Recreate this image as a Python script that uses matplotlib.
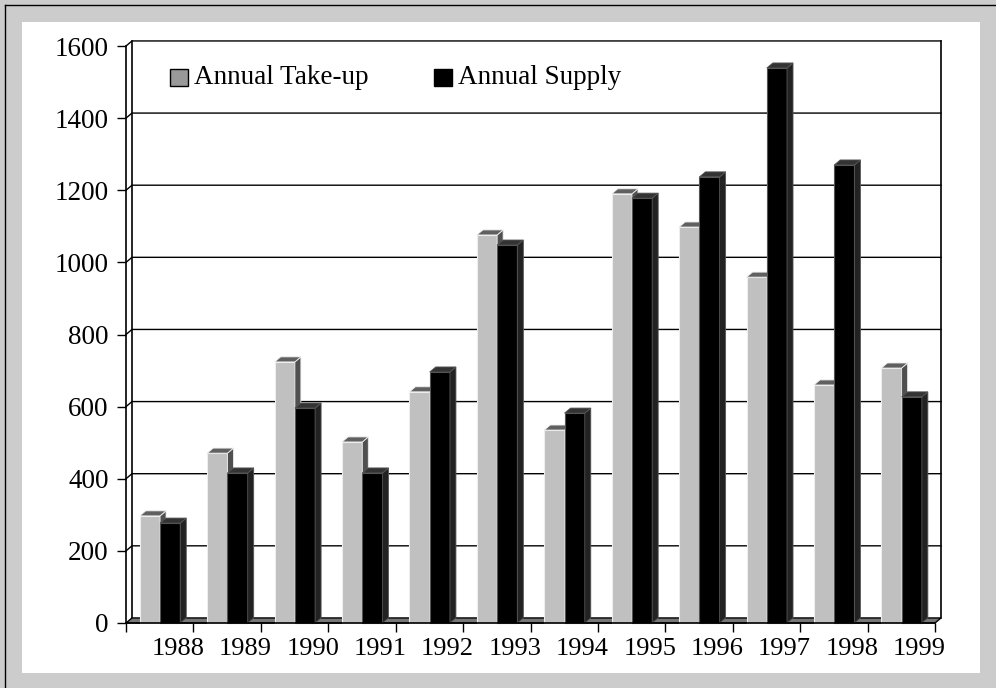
import matplotlib
matplotlib.use('Agg')
import matplotlib.pyplot as plt
from matplotlib.patches import Rectangle, Polygon
from matplotlib.lines import Line2D

years = ['1988', '1989', '1990', '1991', '1992', '1993',
         '1994', '1995', '1996', '1997', '1998', '1999']
take_up = [297, 471, 724, 502, 641, 1076, 535, 1190, 1098, 959, 660, 707]
supply = [277, 416, 596, 416, 696, 1048, 582, 1178, 1237, 1539, 1270, 627]
y_ticks = [0, 200, 400, 600, 800, 1000, 1200, 1400, 1600]

W, H = 996, 688
plt.rcParams['font.family'] = ['Liberation Serif', 'DejaVu Serif']

fig = plt.figure(figsize=(W / 100, H / 100), dpi=100)
fig.patch.set_facecolor('#cccccc')

def px(x0, y0, w, h):
    # pixel box (from top-left) -> figure fraction
    return (x0 / W, 1 - (y0 + h) / H, w / W, h / H)

# white panel and outer frame lines
fig.add_artist(Rectangle(px(22, 22, 958, 651)[:2], 958 / W, 651 / H,
                         transform=fig.transFigure, facecolor='white',
                         edgecolor='none', zorder=0))
fig.add_artist(Line2D([5 / W, 1], [1 - 5 / H, 1 - 5 / H],
                      transform=fig.transFigure, color='black', lw=1))
fig.add_artist(Line2D([5 / W, 5 / W], [0, 1 - 5 / H],
                      transform=fig.transFigure, color='black', lw=1))

ax = fig.add_axes(px(126, 46, 809, 577))
ax.set_facecolor('none')
ax.set_xlim(0, 12)
ax.set_ylim(0, 1600)
n = len(years)

# depth of the 3d effect in data units
dx = 6 / 67.4
dy = 14

# back wall, left wall and grid
for v in y_ticks[1:]:
    ax.plot([0, dx, n + dx], [v, v + dy, v + dy], color='black', lw=1,
            clip_on=False, zorder=1)
ax.plot([dx, dx], [dy, 1600 + dy], color='black', lw=1.2, clip_on=False, zorder=1)
ax.plot([n + dx, n + dx], [dy, 1600 + dy], color='black', lw=1.2, clip_on=False, zorder=1)

# floor
ax.add_patch(Polygon([[0, 0], [n, 0], [n + dx, dy], [dx, dy]], closed=True,
                     facecolor='#777777', edgecolor='black', lw=1,
                     clip_on=False, zorder=2))

bw = 0.3
series = [
    (take_up, 0.205, '#c0c0c0', '#505050', '#606060', '#eeeeee'),
    (supply, 0.505, '#000000', '#222222', '#333333', '#555555'),
]
for i in range(n):
    for vals, off, front, side, top, edge in series:
        x0 = i + off
        v = vals[i]
        ax.bar(x0, v, width=bw, align='edge', color=front, edgecolor=edge,
               lw=0.8, zorder=3, clip_on=False)
        ax.add_patch(Polygon([[x0 + bw, 0], [x0 + bw + dx, dy],
                              [x0 + bw + dx, v + dy], [x0 + bw, v]],
                             closed=True, facecolor=side, edgecolor=edge,
                             lw=0.6, zorder=3, clip_on=False))
        ax.add_patch(Polygon([[x0, v], [x0 + dx, v + dy],
                              [x0 + bw + dx, v + dy], [x0 + bw, v]],
                             closed=True, facecolor=top, edgecolor=edge,
                             lw=0.6, zorder=3, clip_on=False))

for s in ['top', 'right']:
    ax.spines[s].set_visible(False)
for s in ['left', 'bottom']:
    ax.spines[s].set_linewidth(1.2)
    ax.spines[s].set_zorder(4)

ax.set_yticks(y_ticks)
ax.set_yticklabels([str(v) for v in y_ticks])
ax.tick_params(axis='y', length=6.5, width=1, pad=6, labelsize=19.5)
ax.set_xticks(range(n + 1))
ax.set_xticklabels([])
ax.tick_params(axis='x', which='major', length=6.5, width=1)
ax.set_xticks([i + 0.77 for i in range(n)], minor=True)
ax.set_xticklabels(years, minor=True)
ax.tick_params(axis='x', which='minor', length=0, pad=11, labelsize=19)

# legend
for (x0, w, col, label) in [(170, 18, '#999999', 'Annual Take-up'),
                            (434, 18, '#000000', 'Annual Supply')]:
    fig.add_artist(Rectangle(px(x0, 69, w, 17)[:2], w / W, 17 / H,
                             transform=fig.transFigure, facecolor=col,
                             edgecolor='black', lw=1, zorder=5))
    fig.text((x0 + w + 6) / W, 1 - 77 / H, label, fontsize=19.5,
             va='center', ha='left')

fig.savefig('out.png', dpi=100, facecolor=fig.get_facecolor())
